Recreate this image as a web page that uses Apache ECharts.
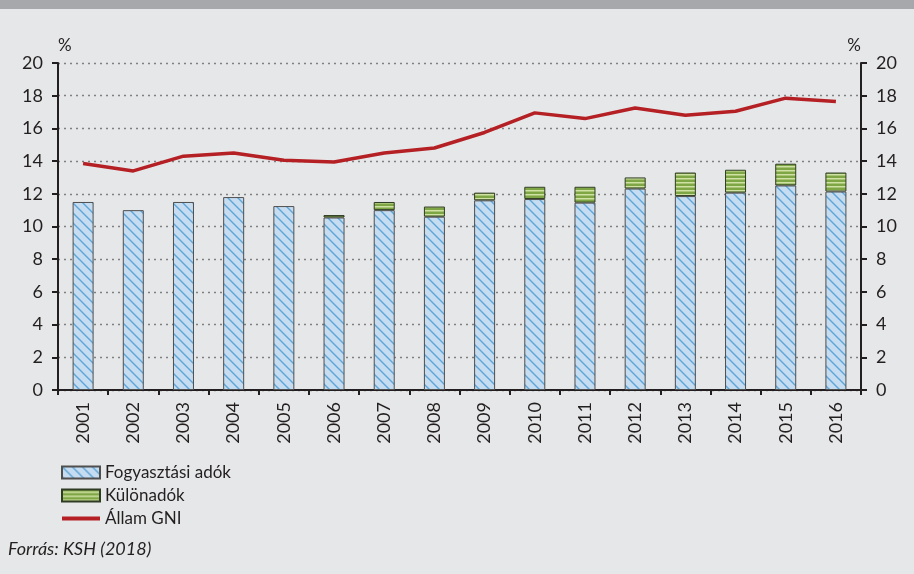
<!DOCTYPE html>
<html>
<head>
<meta charset="utf-8">
<script src="https://cdn.jsdelivr.net/npm/echarts@6/dist/echarts.min.js"></script>
<style>
  html, body { margin: 0; padding: 0; background: #e6e7e8; }
  #main { width: 914px; height: 574px; }
</style>
</head>
<body>
<div id="main"></div>
<script>
const years = ["2001", "2002", "2003", "2004", "2005", "2006", "2007", "2008",
  "2009", "2010", "2011", "2012", "2013", "2014", "2015", "2016"];
const fogyasztasi = [11.5, 11.0, 11.5, 11.8, 11.25, 10.55, 11.0, 10.6,
  11.6, 11.68, 11.46, 12.32, 11.86, 12.07, 12.51, 12.14];
// no special taxes before 2006
const kulonadok = [null, null, null, null, null, 0.15, 0.5, 0.62,
  0.47, 0.75, 0.97, 0.68, 1.44, 1.4, 1.33, 1.16];
const allamGni = [13.85, 13.4, 14.3, 14.5, 14.05, 13.95, 14.5, 14.8,
  15.75, 16.95, 16.6, 17.25, 16.8, 17.05, 17.85, 17.65];

const FONT = "Lato";
const TXT = "#231f20";

// diagonal hatch for the blue bars
function hatchPattern() {
  const c = document.createElement("canvas");
  c.width = 10; c.height = 10;
  const ctx = c.getContext("2d");
  ctx.fillStyle = "#c6dcf0";
  ctx.fillRect(0, 0, 10, 10);
  ctx.strokeStyle = "#5ea5d8";
  ctx.lineWidth = 1.4;
  ctx.beginPath();
  ctx.moveTo(-1, -1); ctx.lineTo(11, 11);
  ctx.moveTo(-1, 9); ctx.lineTo(1, 11);
  ctx.moveTo(9, -1); ctx.lineTo(11, 1);
  ctx.stroke();
  return c;
}

// horizontal stripes for the green bars
function stripePattern() {
  const c = document.createElement("canvas");
  c.width = 4; c.height = 4;
  const ctx = c.getContext("2d");
  ctx.fillStyle = "#7ea645";
  ctx.fillRect(0, 0, 4, 4);
  ctx.fillStyle = "#cfe2a4";
  ctx.fillRect(0, 2, 4, 1.5);
  return c;
}

const chart = echarts.init(document.getElementById("main"));

const yAxisBase = {
  type: "value",
  min: 0,
  max: 20,
  interval: 2,
  name: "%",
  nameLocation: "end",
  nameGap: 9,
  axisLine: { show: true, lineStyle: { color: "#231f20", width: 2 } },
  axisTick: { show: true, inside: false, length: 6, lineStyle: { color: "#231f20", width: 2 } },
  axisLabel: { color: TXT, fontFamily: FONT, fontSize: 18, margin: 15 },
};

chart.setOption({
  backgroundColor: "#e6e7e8",
  animation: false,
  graphic: [
    { type: "rect", left: 0, top: 0, shape: { width: 914, height: 9 }, style: { fill: "#a7a8ab" } },
    {
      type: "text", left: 8, top: 540,
      style: { text: "Forrás: KSH (2018)", fill: TXT, font: "italic 18px Lato" },
    },
  ],
  grid: { left: 58, right: 53, top: 63, bottom: 184 },
  legend: {
    orient: "vertical",
    left: 55,
    top: 459,
    itemWidth: 38,
    itemHeight: 12,
    itemGap: 6,
    textStyle: { color: TXT, fontFamily: FONT, fontSize: 17 },
    data: [
      { name: "Fogyasztási adók", icon: "rect" },
      { name: "Különadók", icon: "rect" },
      { name: "Állam GNI", itemStyle: { opacity: 0 }, lineStyle: { width: 4 } },
    ],
  },
  xAxis: {
    type: "category",
    data: years,
    axisLine: { lineStyle: { color: "#231f20", width: 2 } },
    axisTick: { show: true, length: 5, lineStyle: { color: "#231f20", width: 2 } },
    axisLabel: { color: TXT, fontFamily: FONT, fontSize: 18, rotate: 90, margin: 12 },
  },
  yAxis: [
    Object.assign({}, yAxisBase, {
      position: "left",
      nameTextStyle: { color: TXT, fontFamily: FONT, fontSize: 17, align: "left", padding: [0, 0, 0, 0] },
      splitLine: { show: true, lineStyle: { color: "#808080", type: [2, 4], width: 1.3 } },
    }),
    Object.assign({}, yAxisBase, {
      position: "right",
      nameTextStyle: { color: TXT, fontFamily: FONT, fontSize: 17, align: "right", padding: [0, 0, 0, 0] },
      splitLine: { show: false },
    }),
  ],
  series: [
    {
      name: "Fogyasztási adók",
      type: "bar",
      stack: "adok",
      barWidth: 21,
      data: fogyasztasi,
      itemStyle: {
        color: { image: hatchPattern(), repeat: "repeat" },
        borderColor: "#4f4f4f",
        borderWidth: 1,
      },
    },
    {
      name: "Különadók",
      type: "bar",
      stack: "adok",
      barWidth: 21,
      data: kulonadok,
      itemStyle: {
        color: { image: stripePattern(), repeat: "repeat" },
        borderColor: "#2f3b22",
        borderWidth: 1,
      },
    },
    {
      name: "Állam GNI",
      type: "line",
      data: allamGni,
      symbol: "none",
      lineStyle: { color: "#b52025", width: 3.5 },
      itemStyle: { color: "#b52025" },
      z: 5,
    },
  ],
});
</script>
</body>
</html>
